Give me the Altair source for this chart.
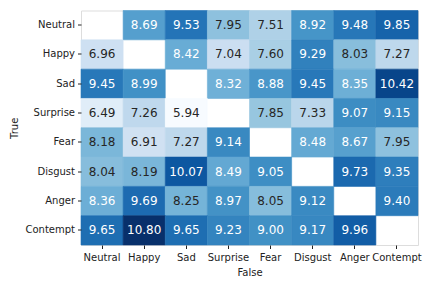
import altair as alt
import pandas as pd
import numpy as np

labels = ["Neutral", "Happy", "Sad", "Surprise", "Fear", "Disgust", "Anger", "Contempt"]

neutral = [None, 8.69, 9.53, 7.95, 7.51, 8.92, 9.48, 9.85]
happy = [6.96, None, 8.42, 7.04, 7.60, 9.29, 8.03, 7.27]
sad = [9.45, 8.99, None, 8.32, 8.88, 9.45, 8.35, 10.42]
surprise = [6.49, 7.26, 5.94, None, 7.85, 7.33, 9.07, 9.15]
fear = [8.18, 6.91, 7.27, 9.14, None, 8.48, 8.67, 7.95]
disgust = [8.04, 8.19, 10.07, 8.49, 9.05, None, 9.73, 9.35]
anger = [8.36, 9.69, 8.25, 8.97, 8.05, 9.12, None, 9.40]
contempt = [9.65, 10.80, 9.65, 9.23, 9.00, 9.17, 9.96, None]

rows_vals = [neutral, happy, sad, surprise, fear, disgust, anger, contempt]

records = []
for t, row in zip(labels, rows_vals):
    for f, v in zip(labels, row):
        if v is not None:
            records.append({"True": t, "False": f, "value": v})
df = pd.DataFrame(records)

blues9 = ["#f7fbff", "#deebf7", "#c6dbef", "#9ecae1", "#6baed6",
          "#4292c6", "#2171b5", "#08519c", "#08306b"]
vmin, vmax = df["value"].min(), df["value"].max()
stops = list(np.linspace(vmin, vmax, len(blues9)))

font = "DejaVu Sans"

xenc = alt.X("False:N", sort=labels, title="False",
             scale=alt.Scale(domain=labels, paddingInner=0, paddingOuter=0),
             axis=alt.Axis(labelAngle=0, domain=False, tickSize=3.5, tickColor="#222",
                           labelPadding=4, titlePadding=5, labelFontSize=10,
                           titleFontSize=10, titleFontWeight="normal",
                           labelColor="#222", titleColor="#222"))
yenc = alt.Y("True:N", sort=labels, title="True",
             scale=alt.Scale(domain=labels, paddingInner=0, paddingOuter=0),
             axis=alt.Axis(domain=False, tickSize=3.5, tickColor="#222",
                           labelPadding=3, titlePadding=5, labelFontSize=10,
                           titleFontSize=10, titleFontWeight="normal",
                           labelColor="#222", titleColor="#222"))

base = alt.Chart(df)

cscale = alt.Scale(domain=stops, range=blues9, interpolate="rgb")

rect = base.mark_rect(strokeWidth=0.6).encode(
    x=xenc, y=yenc,
    color=alt.Color("value:Q", legend=None, scale=cscale),
    stroke=alt.Stroke("value:Q", legend=None, scale=cscale),
)

text = base.mark_text(fontSize=12, font=font).encode(
    x=alt.X("False:N", sort=labels),
    y=alt.Y("True:N", sort=labels),
    text=alt.Text("value:Q", format=".2f"),
    color=alt.condition("datum.value < 8.3", alt.value("#262626"), alt.value("#ffffff")),
)

chart = (rect + text).resolve_scale(color="independent").properties(
    width=337, height=234.5,
    autosize=alt.AutoSizeParams(type="none"),
    padding={"left": 73, "top": 2.5, "right": 6, "bottom": 40},
).configure_view(stroke=None).configure(font=font)

chart.save("out.html", embed_options={"renderer": "svg", "actions": False})
